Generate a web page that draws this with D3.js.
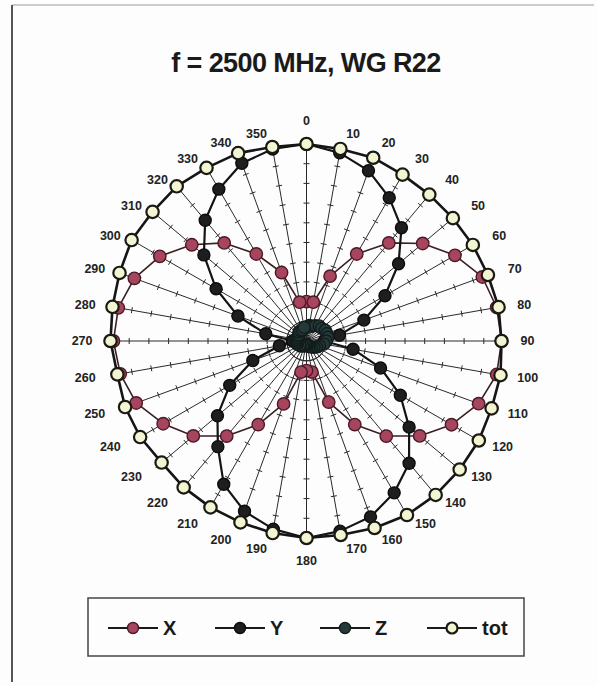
<!DOCTYPE html>
<html>
<head>
<meta charset="utf-8">
<script src="https://cdn.jsdelivr.net/npm/d3@7/dist/d3.min.js"></script>
<style>
  html, body { margin: 0; padding: 0; background: #ffffff; }
  svg { display: block; }
  text { font-family: "Liberation Sans", Arial, Helvetica, sans-serif; }
</style>
</head>
<body>
<svg id="chart" width="597" height="686"></svg>
<script>
// Direction of measurement, degrees clockwise from the top
const angles = d3.range(0, 360, 10);
const angleLabels = angles.map(String);

// Normalised field components per direction
const valuesX = [0.20, 0.20, 0.35, 0.51, 0.65, 0.77, 0.87, 0.95, 0.98, 0.99, 0.98, 0.93,
                 0.85, 0.75, 0.63, 0.49, 0.33, 0.16, 0.15, 0.16, 0.34, 0.49, 0.63, 0.75,
                 0.84, 0.92, 0.96, 0.98, 0.97, 0.93, 0.86, 0.76, 0.65, 0.51, 0.37, 0.20];
const valuesY = [1.00, 0.97, 0.92, 0.84, 0.75, 0.61, 0.46, 0.31, 0.17, 0.09, 0.24, 0.40,
                 0.55, 0.68, 0.81, 0.89, 0.95, 0.98, 1.00, 0.97, 0.92, 0.84, 0.70, 0.59,
                 0.45, 0.29, 0.14, 0.07, 0.21, 0.37, 0.53, 0.68, 0.80, 0.89, 0.96, 0.99];
const valuesZ = [0.07, 0.08, 0.08, 0.09, 0.10, 0.10, 0.11, 0.11, 0.11, 0.10, 0.09, 0.07,
                 0.06, 0.05, 0.04, 0.03, 0.03, 0.02, 0.02, 0.02, 0.02, 0.03, 0.03, 0.04,
                 0.04, 0.05, 0.05, 0.05, 0.05, 0.05, 0.05, 0.05, 0.06, 0.06, 0.06, 0.07];
const valuesTot = [1.00, 0.99, 0.99, 0.975, 0.97, 0.97, 0.975, 0.98, 0.99, 0.99, 1.00, 1.00,
                   1.01, 1.015, 1.02, 1.02, 1.01, 1.00, 1.00, 0.99, 0.98, 0.975, 0.97, 0.96,
                   0.975, 0.98, 0.975, 0.995, 1.00, 1.01, 1.025, 1.02, 1.025, 1.015, 1.015, 1.00];

const radialTicks = [0.1, 0.2, 0.3, 0.4, 0.5, 0.6, 0.7, 0.8, 0.9];

const seriesNames = ["X", "Y", "Z", "tot"];
const seriesValues = [valuesX, valuesY, valuesZ, valuesTot];

const styles = {
  X:   { line: "#3a1f24", lineWidth: 1.6, fill: "#a6455d", stroke: "#4a1a26", r: 6.2 },
  Y:   { line: "#141414", lineWidth: 2.2, fill: "#1e1e1e", stroke: "#0c0c0c", r: 6.0 },
  Z:   { line: "#1b2624", lineWidth: 1.8, fill: "#26393a", stroke: "#121c1b", r: 6.0 },
  tot: { line: "#151515", lineWidth: 2.6, fill: "#f2f4d2", stroke: "#1a1a12", r: 6.2 }
};

const svg = d3.select("#chart");
const W = 597, H = 686;

svg.append("rect").attr("width", W).attr("height", H).attr("fill", "#fdfdfd");

// page frame
svg.append("line").attr("x1", 12).attr("y1", 5).attr("x2", 594).attr("y2", 5)
  .attr("stroke", "#9a9a9a").attr("stroke-width", 1);
svg.append("line").attr("x1", 12).attr("y1", 5).attr("x2", 12).attr("y2", 682)
  .attr("stroke", "#555").attr("stroke-width", 2);

// title
svg.append("text")
  .attr("x", 306).attr("y", 72)
  .attr("text-anchor", "middle")
  .attr("font-size", 27)
  .attr("font-weight", "bold")
  .attr("letter-spacing", -0.6)
  .attr("fill", "#1a1a1a")
  .text("f = 2500 MHz, WG R22");

const cx = 306.5, cy = 341;
const R = 197;
const r = d3.scaleLinear().domain([0, 1]).range([0, R]);
const ang = d => d * Math.PI / 180;

const g = svg.append("g").attr("transform", `translate(${cx},${cy})`);

// spokes with tick marks
const spokes = g.append("g");
angles.forEach(a => {
  const s = Math.sin(ang(a)), c = -Math.cos(ang(a));
  spokes.append("line")
    .attr("x1", 0).attr("y1", 0)
    .attr("x2", r(1) * s).attr("y2", r(1) * c)
    .attr("stroke", "#2a2a2a").attr("stroke-width", 1);
  radialTicks.forEach(t => {
    const px = r(t) * s, py = r(t) * c;
    const tx = -c * 3, ty = s * 3;
    spokes.append("line")
      .attr("x1", px - tx).attr("y1", py - ty)
      .attr("x2", px + tx).attr("y2", py + ty)
      .attr("stroke", "#2a2a2a").attr("stroke-width", 1);
  });
});

// direction labels
angles.forEach((a, i) => {
  const s = Math.sin(ang(a)), c = Math.cos(ang(a));
  const side = s > 0.1 ? 1 : (s < -0.1 ? -1 : 0);
  const lr = r(1) + 14 + (side === 0 ? 9 : 0);
  g.append("text")
    .attr("x", lr * s + side * 3)
    .attr("y", -lr * c)
    .attr("dy", "0.35em")
    .attr("text-anchor", side > 0 ? "start" : (side < 0 ? "end" : "middle"))
    .attr("font-size", 12.5)
    .attr("font-weight", "bold")
    .attr("fill", "#222")
    .text(angleLabels[i]);
});

const radial = d3.lineRadial()
  .angle(d => ang(d.a))
  .radius(d => r(d.v))
  .curve(d3.curveLinearClosed);

seriesNames.forEach((name, k) => {
  const st = styles[name];
  const pts = angles.map((a, i) => ({ a, v: seriesValues[k][i] }));
  const sg = g.append("g");
  sg.append("path")
    .attr("d", radial(pts))
    .attr("fill", "none")
    .attr("stroke", st.line)
    .attr("stroke-width", st.lineWidth)
    .attr("stroke-linejoin", "round");
  sg.selectAll("circle").data(pts).join("circle")
    .attr("cx", d => r(d.v) * Math.sin(ang(d.a)))
    .attr("cy", d => -r(d.v) * Math.cos(ang(d.a)))
    .attr("r", st.r)
    .attr("fill", st.fill)
    .attr("stroke", st.stroke)
    .attr("stroke-width", name === "tot" ? 2.2 : 1.4);
});

// legend
const leg = svg.append("g");
leg.append("rect")
  .attr("x", 88).attr("y", 598).attr("width", 436).attr("height", 58)
  .attr("fill", "#fdfdfd").attr("stroke", "#444").attr("stroke-width", 1.5);
const legendX = [108, 215, 320, 427];
seriesNames.forEach((name, k) => {
  const st = styles[name];
  const x0 = legendX[k], y0 = 628;
  leg.append("line").attr("x1", x0).attr("y1", y0).attr("x2", x0 + 50).attr("y2", y0)
    .attr("stroke", "#1a1a1a").attr("stroke-width", 2.2);
  leg.append("circle").attr("cx", x0 + 25).attr("cy", y0).attr("r", 5.5)
    .attr("fill", st.fill).attr("stroke", st.stroke)
    .attr("stroke-width", name === "tot" ? 2.2 : 1.4);
  leg.append("text").attr("x", x0 + 55).attr("y", y0).attr("dy", "0.36em")
    .attr("font-size", 20).attr("font-weight", "bold").attr("fill", "#1a1a1a")
    .text(name);
});
</script>
</body>
</html>
